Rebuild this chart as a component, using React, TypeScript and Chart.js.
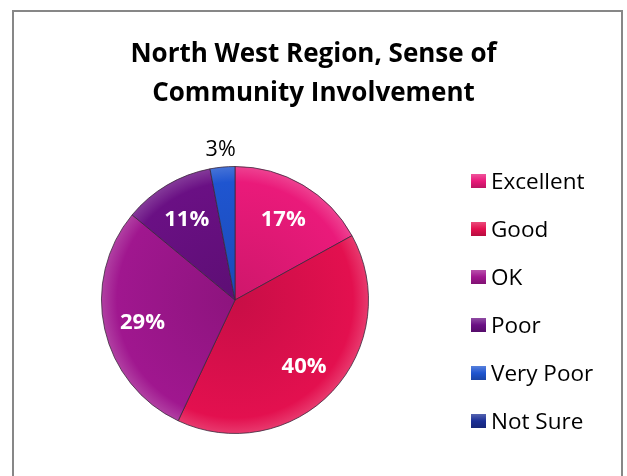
import { useEffect, useRef } from "react";
import { Chart, registerables } from "chart.js";

Chart.register(...registerables);

const titleLines = ["North West Region, Sense of", "Community Involvement"];
const categories = ["Excellent", "Good", "OK", "Poor", "Very Poor", "Not Sure"];
const values = [17, 40, 29, 11, 3, 0];
const colors = ["#EA1A7A", "#E3104F", "#A0178F", "#6A1084", "#1F55D0", "#1B2F96"];

function mix(hex: string, amt: number): string {
  const n = parseInt(hex.slice(1), 16);
  let r = (n >> 16) & 255, g = (n >> 8) & 255, b = n & 255;
  const t = amt > 0 ? 255 : 0;
  const a = Math.abs(amt);
  r = Math.round(r + (t - r) * a);
  g = Math.round(g + (t - g) * a);
  b = Math.round(b + (t - b) * a);
  return `rgb(${r},${g},${b})`;
}

const FONT = "'Open Sans', Lato, sans-serif";

const decor = {
  id: "decor",
  beforeDraw(chart: any) {
    const ctx = chart.ctx;
    ctx.save();
    ctx.fillStyle = "#ffffff";
    ctx.fillRect(0, 0, chart.width, chart.height);
    ctx.strokeStyle = "#878787";
    ctx.lineWidth = 2;
    ctx.strokeRect(13, 11, 609, 520);
    ctx.restore();
  },
  afterDraw(chart: any) {
    const ctx = chart.ctx;
    ctx.save();
    // title
    ctx.fillStyle = "#000000";
    ctx.textAlign = "center";
    ctx.textBaseline = "alphabetic";
    ctx.font = `bold 26px ${FONT}`;
    ctx.fillText(titleLines[0], 313.5, 62);
    ctx.fillText(titleLines[1], 313.5, 101);

    // slice labels
    const meta = chart.getDatasetMeta(0);
    meta.data.forEach((arc: any, i: number) => {
      const v = values[i];
      if (!v) return;
      const p = arc.getProps(["x", "y", "startAngle", "endAngle", "outerRadius"], true);
      const mid = (p.startAngle + p.endAngle) / 2;
      if (v >= 5) {
        const r = p.outerRadius * 0.71;
        const x = p.x + Math.cos(mid) * r;
        const y = p.y + Math.sin(mid) * r;
        ctx.fillStyle = "#ffffff";
        ctx.font = `bold 22px ${FONT}`;
        ctx.textAlign = "center";
        ctx.fillText(`${v}%`, x, y + 8);
      } else {
        const r = p.outerRadius + 19;
        const x = p.x + Math.cos(mid) * r;
        const y = p.y + Math.sin(mid) * r;
        ctx.fillStyle = "#000000";
        ctx.font = `21.5px ${FONT}`;
        ctx.textAlign = "center";
        ctx.fillText(`${v}%`, x, y + 7.5);
      }
    });

    // legend
    ctx.textAlign = "left";
    ctx.font = `22.5px ${FONT}`;
    categories.forEach((c, i) => {
      const y = 181 + i * 48;
      const g = ctx.createLinearGradient(0, y - 7, 0, y + 7);
      g.addColorStop(0, mix(colors[i], 0.25));
      g.addColorStop(0.5, colors[i]);
      g.addColorStop(1, mix(colors[i], -0.2));
      ctx.fillStyle = g;
      ctx.fillRect(471, y - 7, 15, 14);
      ctx.fillStyle = "#000000";
      ctx.fillText(c, 491, y + 7.5);
    });
    ctx.restore();
  },
};

export default function App() {
  const ref = useRef<HTMLCanvasElement>(null);
  useEffect(() => {
    const canvas = ref.current!;
    const chart = new Chart(canvas, {
      type: "pie",
      data: {
        labels: categories,
        datasets: [
          {
            data: values,
            backgroundColor: (c: any) => {
              const base = colors[c.dataIndex];
              const ca = c.chart.chartArea;
              if (!ca) return base;
              const cx = (ca.left + ca.right) / 2;
              const cy = (ca.top + ca.bottom) / 2;
              const r = Math.min(ca.width, ca.height) / 2;
              const g = c.chart.ctx.createRadialGradient(cx, cy, 0, cx, cy, r);
              g.addColorStop(0, mix(base, -0.12));
              g.addColorStop(0.88, base);
              g.addColorStop(1, mix(base, 0.18));
              return g;
            },
            borderColor: "rgba(60,40,60,0.8)",
            borderWidth: 1,
          },
        ],
      },
      options: {
        responsive: false,
        animation: false,
        devicePixelRatio: 1,
        layout: { padding: { left: 101, top: 166, right: 258, bottom: 42 } },
        plugins: {
          legend: { display: false },
          title: { display: false },
          tooltip: { enabled: false },
        },
      },
      plugins: [decor],
    } as any);
    return () => chart.destroy();
  }, []);
  return (
    <canvas
      ref={ref}
      width={627}
      height={476}
      style={{ position: "fixed", left: 0, top: 0, width: 627, height: 476 }}
    />
  );
}
